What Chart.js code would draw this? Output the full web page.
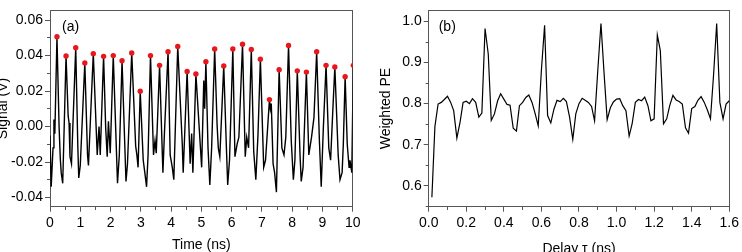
<!DOCTYPE html>
<html>
<head>
<meta charset="utf-8">
<script src="https://cdn.jsdelivr.net/npm/chart.js@4.4.0/dist/chart.umd.min.js"></script>
<style>
    body { margin: 0; background: #fff; }
    canvas { position: absolute; top: 0; }
    #signalChart { left: 0; }
    #peChart { left: 370px; }
</style>
</head>
<body>
<canvas id="signalChart" width="370" height="252"></canvas>
<canvas id="peChart" width="372" height="252"></canvas>
<script>
// (a) chaotic signal, time in ns / signal in V
let timeNs = [
    0.00, 0.04, 0.10, 0.13, 0.16, 0.23, 0.30, 0.34, 0.37, 0.42,
    0.53, 0.60, 0.63, 0.66, 0.71, 0.85, 0.92, 0.95, 1.00, 1.15,
    1.24, 1.27, 1.43, 1.56, 1.62, 1.66, 1.77, 1.84, 1.89, 1.93,
    1.99, 2.09, 2.23, 2.29, 2.38, 2.51, 2.56, 2.70, 2.83, 2.87,
    2.91, 2.98, 3.08, 3.14, 3.19, 3.24, 3.32, 3.42, 3.47, 3.51,
    3.62, 3.73, 3.78, 3.90, 3.97, 4.04, 4.09, 4.22, 4.37, 4.40,
    4.53, 4.63, 4.68, 4.72, 4.82, 4.97, 5.01, 5.08, 5.11, 5.15,
    5.22, 5.28, 5.34, 5.44, 5.52, 5.56, 5.61, 5.74, 5.82, 5.87,
    5.93, 6.04, 6.11, 6.18, 6.24, 6.36, 6.45, 6.50, 6.56, 6.65,
    6.73, 6.80, 6.87, 6.95, 7.06, 7.12, 7.25, 7.28, 7.31, 7.37,
    7.42, 7.48, 7.57, 7.66, 7.73, 7.79, 7.88, 7.97, 8.04, 8.09,
    8.17, 8.26, 8.30, 8.36, 8.47, 8.55, 8.64, 8.72, 8.81, 8.90,
    8.96, 9.03, 9.12, 9.21, 9.27, 9.34, 9.41, 9.52, 9.58, 9.65,
    9.69, 9.75, 9.82, 9.88, 9.91, 9.97, 10.02
];
let signalV = [
    -0.005, -0.034, -0.012, 0.004, -0.004, 0.0506, 0.000, -0.018, -0.026, -0.032,
    0.0398, 0.006, 0.002, -0.017, -0.021, 0.0444, -0.012, -0.029, -0.022, 0.0358,
    -0.016, -0.022, 0.0411, -0.016, 0.000, -0.016, 0.0396, -0.001, -0.017, 0.003,
    -0.015, 0.040, -0.032, -0.016, 0.0371, -0.031, -0.021, 0.0415, -0.011, -0.016,
    -0.023, 0.0199, -0.019, -0.027, -0.034, -0.016, 0.040, -0.016, -0.008, -0.015,
    0.0345, -0.026, -0.004, 0.0422, -0.016, -0.023, -0.030, 0.0451, -0.010, -0.026,
    0.0311, -0.021, -0.004, -0.026, 0.0296, -0.012, -0.023, 0.026, 0.010, 0.0365,
    -0.012, -0.033, -0.012, 0.0437, 0.001, -0.012, -0.017, 0.0342, -0.008, -0.033,
    -0.019, 0.0437, -0.017, -0.010, -0.006, 0.0464, -0.017, -0.006, -0.012, 0.0435,
    -0.014, -0.030, -0.005, 0.038, -0.023, -0.019, 0.0152, 0.010, 0.013, -0.021,
    -0.026, -0.037, 0.032, -0.012, -0.016, -0.006, 0.0457, -0.008, -0.030, -0.019,
    0.0314, -0.016, -0.031, -0.023, 0.0307, -0.016, -0.006, 0.005, 0.0422, -0.008,
    -0.034, -0.001, 0.0345, -0.012, -0.019, 0.008, 0.0336, -0.016, -0.030, -0.026,
    -0.010, 0.0281, -0.010, -0.023, -0.019, -0.026, 0.0345
];

// red dots on the peaks
let peakTimes = [
    0.23, 0.53, 0.85, 1.15, 1.43, 1.77, 2.09, 2.38, 2.70, 2.98, 3.32,
    3.62, 3.90, 4.22, 4.53, 4.82, 5.15, 5.44, 5.74, 6.04, 6.36, 6.65,
    6.95, 7.25, 7.57, 7.88, 8.17, 8.47, 8.81, 9.12, 9.41, 9.75, 10.02
];
let peakValues = [
    0.0506, 0.0398, 0.0444, 0.0358, 0.0411, 0.0396, 0.040, 0.0371, 0.0415, 0.0199, 0.040,
    0.0345, 0.0422, 0.0451, 0.0311, 0.0296, 0.0365, 0.0437, 0.0342, 0.0437, 0.0464, 0.0435,
    0.038, 0.0152, 0.032, 0.0457, 0.0314, 0.0307, 0.0422, 0.0345, 0.0336, 0.0281, 0.0345
];

// (b) weighted permutation entropy vs delay
let delayNs = [
    0.017, 0.033, 0.05, 0.067, 0.083, 0.1, 0.117, 0.133, 0.15, 0.167,
    0.183, 0.2, 0.217, 0.233, 0.25, 0.267, 0.283, 0.3, 0.317, 0.333,
    0.35, 0.367, 0.383, 0.4, 0.417, 0.433, 0.45, 0.467, 0.483, 0.5,
    0.517, 0.533, 0.55, 0.567, 0.583, 0.6, 0.617, 0.633, 0.65, 0.667,
    0.683, 0.7, 0.717, 0.733, 0.75, 0.767, 0.783, 0.8, 0.817, 0.833,
    0.85, 0.867, 0.883, 0.9, 0.917, 0.933, 0.95, 0.967, 0.983, 1.0,
    1.017, 1.033, 1.05, 1.067, 1.083, 1.1, 1.117, 1.133, 1.15, 1.167,
    1.183, 1.2, 1.217, 1.233, 1.25, 1.267, 1.283, 1.3, 1.317, 1.333,
    1.35, 1.367, 1.383, 1.4, 1.417, 1.433, 1.45, 1.467, 1.483, 1.5,
    1.517, 1.533, 1.55, 1.567, 1.583, 1.6
];
let weightedPE = [
    0.572, 0.744, 0.799, 0.803, 0.81, 0.818, 0.803, 0.783, 0.716, 0.755,
    0.803, 0.806, 0.80, 0.812, 0.803, 0.767, 0.777, 0.983, 0.921, 0.759,
    0.775, 0.807, 0.824, 0.811, 0.798, 0.796, 0.74, 0.733, 0.795, 0.803,
    0.815, 0.821, 0.803, 0.775, 0.746, 0.882, 0.991, 0.771, 0.753, 0.787,
    0.808, 0.805, 0.813, 0.805, 0.767, 0.713, 0.775, 0.80, 0.813, 0.808,
    0.803, 0.793, 0.758, 0.88, 0.995, 0.878, 0.761, 0.79, 0.804, 0.811,
    0.812, 0.795, 0.783, 0.721, 0.751, 0.803, 0.81, 0.807, 0.816, 0.795,
    0.758, 0.763, 0.967, 0.929, 0.751, 0.763, 0.795, 0.82, 0.809, 0.805,
    0.799, 0.741, 0.728, 0.788, 0.793, 0.808, 0.817, 0.803, 0.785, 0.763,
    0.874, 0.995, 0.803, 0.763, 0.799, 0.807
];

const fontFamily = "'Liberation Sans', Arial, sans-serif";
const frameColor = '#555';
Chart.defaults.font.family = fontFamily;
Chart.defaults.font.size = 14;
Chart.defaults.color = '#000';

const isMajor = (value, majorStep) => {
    let r = value / majorStep;
    return Math.abs(r - Math.round(r)) < 1e-6;
}

const toPoints = (xs, ys) => xs.map((x, i) => ({ x: x, y: ys[i] }));

// "(a)" / "(b)" inside the plot
const panelLabel = {
    id: 'panelLabel',
    afterDraw(chart, args, opts) {
        let ctx = chart.ctx;
        ctx.save();
        ctx.font = '14px ' + fontFamily;
        ctx.fillStyle = '#000';
        ctx.fillText(opts.text, chart.chartArea.left + opts.dx, chart.chartArea.top + opts.dy);
        ctx.restore();
    }
};

// plain axis lines on top and right to close the frame
const frameAxes = () => ({
    x2: {
        type: 'linear', axis: 'x', position: 'top', min: 0, max: 1,
        afterFit: s => { s.height = 0; },
        border: { color: frameColor, width: 1 },
        grid: { drawOnChartArea: false, drawTicks: false },
        ticks: { display: false }
    },
    y2: {
        type: 'linear', axis: 'y', position: 'right', min: 0, max: 1,
        afterFit: s => { s.width = 0; },
        border: { color: frameColor, width: 1 },
        grid: { drawOnChartArea: false, drawTicks: false },
        ticks: { display: false }
    }
});

const xAxis = (min, max, step, majorStep, digits, title, titleBottom) => ({
    type: 'linear', position: 'bottom', min: min, max: max,
    afterFit: s => { s.height = 45.3; },
    border: { color: frameColor, width: 1 },
    grid: {
        drawOnChartArea: false, tickLength: 5, tickColor: frameColor,
        tickBorderDash: c => isMajor(c.tick.value, majorStep) ? [] : [3, 20]
    },
    ticks: {
        stepSize: step, autoSkip: false, maxRotation: 0, padding: 3, maxTicksLimit: 100, includeBounds: false,
        callback: v => isMajor(v, majorStep) ? v.toFixed(digits) : ''
    },
    title: { display: true, text: title, padding: { top: 0, bottom: titleBottom } }
});

const yAxis = (min, max, step, majorStep, digits, width, title, titleTop) => ({
    type: 'linear', position: 'left', min: min, max: max,
    afterFit: s => { s.width = width; },
    border: { color: frameColor, width: 1 },
    grid: {
        drawOnChartArea: false, tickLength: 5, tickColor: frameColor,
        tickBorderDash: c => isMajor(c.tick.value, majorStep) ? [] : [0, 2, 3, 20]
    },
    ticks: {
        stepSize: step, autoSkip: false, padding: 2, maxTicksLimit: 100, includeBounds: false,
        callback: v => isMajor(v, majorStep) ? v.toFixed(digits) : ''
    },
    title: { display: true, text: title, padding: { top: titleTop, bottom: 0 } }
});

new Chart(document.getElementById('signalChart'), {
    type: 'line',
    data: {
        datasets: [{
            data: toPoints(peakTimes, peakValues),
            showLine: false,
            pointRadius: 2.7,
            pointBorderWidth: 0,
            pointBackgroundColor: '#e8171c'
        }, {
            data: toPoints(timeNs, signalV),
            borderColor: '#000',
            borderWidth: 1.4,
            pointRadius: 0,
            tension: 0
        }]
    },
    options: {
        responsive: false,
        animation: false,
        devicePixelRatio: 1,
        layout: { padding: { top: 5.3, right: 17.3, left: 0, bottom: 0 } },
        plugins: {
            legend: { display: false },
            tooltip: { enabled: false },
            panelLabel: { text: '(a)', dx: 12, dy: 21 }
        },
        scales: Object.assign({
            x: xAxis(0, 10, 0.5, 1, 0, 'Time (ns)', -2),
            y: yAxis(-0.0452, 0.0655, 0.01, 0.02, 2, 50, 'Signal (V)', -5)
        }, frameAxes())
    },
    plugins: [panelLabel]
});

new Chart(document.getElementById('peChart'), {
    type: 'line',
    data: {
        datasets: [{
            data: toPoints(delayNs, weightedPE),
            borderColor: '#000',
            borderWidth: 1.2,
            pointRadius: 0,
            tension: 0
        }]
    },
    options: {
        responsive: false,
        animation: false,
        devicePixelRatio: 1,
        layout: { padding: { top: 5.3, right: 10.3, left: 0, bottom: 0 } },
        plugins: {
            legend: { display: false },
            tooltip: { enabled: false },
            panelLabel: { text: '(b)', dx: 10, dy: 21 }
        },
        scales: Object.assign({
            x: xAxis(0, 1.6, 0.1, 0.2, 1, 'Delay τ (ns)', -6),
            y: yAxis(0.549, 1.027, 0.05, 0.1, 1, 58.7, 'Weighted PE', 7.6)
        }, frameAxes())
    },
    plugins: [panelLabel]
});
</script>
</body>
</html>
